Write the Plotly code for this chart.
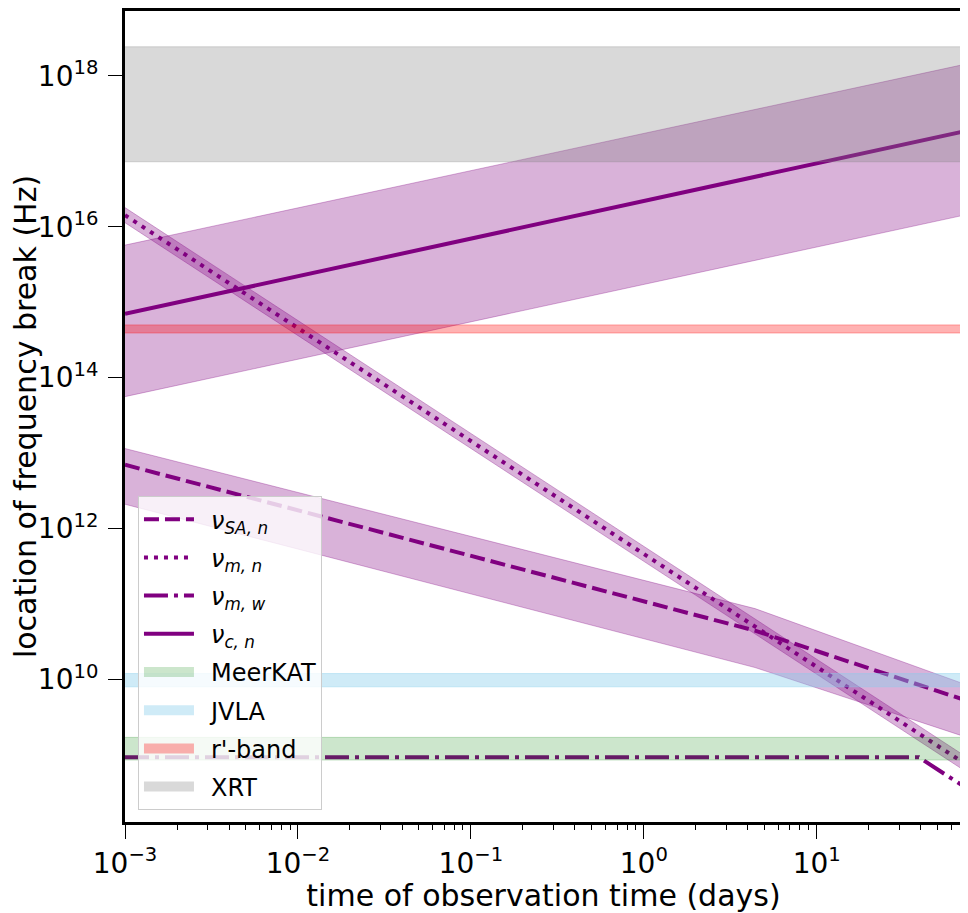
import plotly.graph_objects as go

# time grid (days) at the ends / break points of each power law
t_span = [1e-3, 70]
t_sa = [1e-3, 4.4, 70]
t_mw = [1e-3, 39, 70]

# frequency breaks (Hz)
nu_sa_n = [7.0e12, 4.44e10, 5.45e9]
nu_sa_n_hi = [1.15e13, 8.7e10, 8.85e9]
nu_sa_n_lo = [2.1e12, 1.44e10, 1.78e9]

nu_m_n = [1.42e16, 8.0e8]
nu_m_n_hi = [1.79e16, 1.01e9]
nu_m_n_lo = [1.13e16, 6.4e8]

nu_m_w = [9.3e8, 9.3e8, 3.9e8]

nu_c_n = [7.0e14, 1.82e17]
nu_c_n_hi = [5.7e15, 1.40e18]
nu_c_n_lo = [5.6e13, 1.41e16]

# observing bands (Hz)
band_names = ["MeerKAT", "JVLA", "r'-band", "XRT"]
band_lo = [0.856e9, 8.0e9, 3.9e14, 7.25e16]
band_hi = [1.712e9, 1.2e10, 5.0e14, 2.42e18]
band_fill = ["rgba(0,128,0,0.2)", "rgba(135,206,235,0.4)",
             "rgba(255,0,0,0.3)", "rgba(128,128,128,0.3)"]

purple = "purple"
band_purple = "rgba(128,0,128,0.3)"
pad = "\u2002"  # a bit of room between legend symbol and text

fig = go.Figure()


def band(x, lo, hi, color):
    # closed polygon between the lower and upper curve
    return go.Scatter(
        x=list(x) + list(x)[::-1],
        y=list(hi) + list(lo)[::-1],
        fill="toself", fillcolor=color,
        mode="lines", line=dict(color=color, width=1),
        showlegend=False, hoverinfo="skip",
    )


fig.add_trace(band(t_sa, nu_sa_n_lo, nu_sa_n_hi, band_purple))
fig.add_trace(go.Scatter(x=t_sa, y=nu_sa_n, mode="lines",
                         line=dict(color=purple, width=4, dash="15px,6px"),
                         name=pad + "<i>ν</i><sub><i>SA, n</i></sub>", legendgroup="a"))

fig.add_trace(band(t_span, nu_m_n_lo, nu_m_n_hi, band_purple))
fig.add_trace(go.Scatter(x=t_span, y=nu_m_n, mode="lines",
                         line=dict(color=purple, width=4, dash="4px,6px"),
                         name=pad + "<i>ν</i><sub><i>m, n</i></sub>", legendgroup="b"))

fig.add_trace(go.Scatter(x=t_mw, y=nu_m_w, mode="lines",
                         line=dict(color=purple, width=4, dash="24px,6px,4px,6px"),
                         name=pad + "<i>ν</i><sub><i>m, w</i></sub>", legendgroup="c"))

fig.add_trace(band(t_span, nu_c_n_lo, nu_c_n_hi, band_purple))
fig.add_trace(go.Scatter(x=t_span, y=nu_c_n, mode="lines",
                         line=dict(color=purple, width=4),
                         name=pad + "<i>ν</i><sub><i>c, n</i></sub>", legendgroup="d"))

for name, lo, hi, col in zip(band_names, band_lo, band_hi, band_fill):
    fig.add_trace(band(t_span, [lo, lo], [hi, hi], col))
    # legend patch for the band
    fig.add_trace(go.Scatter(x=[None], y=[None], mode="lines",
                             line=dict(color=col, width=10),
                             name=pad + name, legendgroup=name))

x_ticks = [1e-3, 1e-2, 1e-1, 1e0, 1e1]
x_text = ["10<sup>−3</sup>", "10<sup>−2</sup>", "10<sup>−1</sup>", "10<sup>0</sup>", "10<sup>1</sup>"]
x_minor = [k * 10.0 ** e for e in range(-3, 2) for k in range(2, 10)]
y_ticks = [1e10, 1e12, 1e14, 1e16, 1e18]
y_text = ["10<sup>10</sup>", "10<sup>12</sup>", "10<sup>14</sup>", "10<sup>16</sup>", "10<sup>18</sup>"]

axis_common = dict(showline=True, linecolor="black", linewidth=3, mirror=True,
                   ticks="outside", ticklen=14, tickwidth=1, tickcolor="black",
                   showgrid=False, zeroline=False,
                   tickfont=dict(size=28, color="black"))

# the page puts the figure 8px in from the top-left corner
fig.update_layout(
    width=960, height=905,
    margin=dict(l=117, r=6, t=0, b=91),
    paper_bgcolor="white", plot_bgcolor="white",
    font=dict(family="DejaVu Sans", color="black"),
    xaxis=dict(type="log", range=[-3, 1.84],
               tickmode="array", tickvals=x_ticks, ticktext=x_text,
               minor=dict(tickmode="array", tickvals=x_minor, ticks="outside",
                          ticklen=5, tickwidth=1, tickcolor="black"),
               title=dict(text="time of observation time (days)",
                          font=dict(size=30), standoff=2),
               **axis_common),
    yaxis=dict(type="log", range=[8.112, 18.858],
               tickmode="array", tickvals=y_ticks, ticktext=y_text,
               ticklabelstandoff=4,
               title=dict(text="location of frequency break (Hz)",
                          font=dict(size=30), standoff=8),
               **axis_common),
    legend=dict(x=0.0155, y=0.0147, xanchor="left", yanchor="bottom",
                bgcolor="rgba(255,255,255,0.8)", bordercolor="#cccccc",
                borderwidth=1, font=dict(size=24), itemwidth=50,
                tracegroupgap=4),
    showlegend=True,
)

fig.write_html("out.html")
